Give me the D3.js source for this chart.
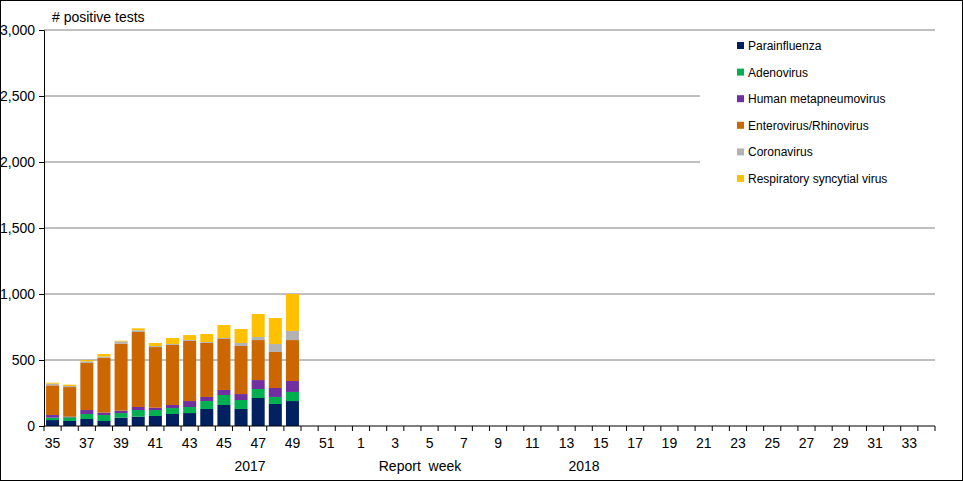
<!DOCTYPE html>
<html><head><meta charset="utf-8">
<script src="https://cdn.jsdelivr.net/npm/d3@7"></script>
<style>body{margin:0;background:#fff;font-family:Arial,"Liberation Sans",sans-serif;}</style>
</head><body><div id="chart"></div>
<script>
// weeks 35..52 of 2017, then 1..34 of 2018
var weeks = d3.range(35, 53).concat(d3.range(1, 35));
var series = ["Parainfluenza", "Adenovirus", "Human metapneumovirus", "Enterovirus/Rhinovirus", "Coronavirus", "Respiratory syncytial virus"];
var colors = ["#002060", "#00b050", "#7030a0", "#cc6600", "#b2b2b2", "#ffc000"];

// values per week (35..49), one array per virus
var parainfluenza = [45, 38, 53, 38, 63, 71, 76, 91, 98, 129, 159, 129, 212, 167, 189];
var adenovirus    = [18, 28, 38, 45, 35, 50, 45, 45, 46, 60, 76, 68, 68, 53, 69];
var hmpv          = [20, 5, 30, 18, 18, 23, 18, 23, 45, 31, 38, 45, 68, 68, 83];
var entero        = [225, 224, 356, 417, 508, 568, 459, 455, 455, 409, 386, 364, 303, 273, 310];
var corona        = [13, 8, 13, 8, 17, 13, 8, 7, 7, 7, 8, 23, 23, 60, 69];
var rsv           = [7, 10, 10, 19, 5, 15, 23, 46, 38, 61, 98, 106, 174, 197, 280];
var yTicks = [0, 500, 1000, 1500, 2000, 2500, 3000];

var W = 963, H = 481;
var m = {left: 44, right: 28, top: 30, bottom: 55};

var svg = d3.select("#chart").append("svg").attr("width", W).attr("height", H);
svg.append("rect").attr("x", 0.5).attr("y", 0.5).attr("width", W - 1).attr("height", H - 1)
  .attr("fill", "#fff").attr("stroke", "#000");

var x = d3.scaleBand().domain(weeks).range([m.left, W - m.right]).paddingInner(0.24).paddingOuter(0.12);
var y = d3.scaleLinear().domain([0, 3000]).range([H - m.bottom, m.top]);

// gridlines
svg.selectAll(".grid").data(yTicks.slice(1)).enter().append("line")
  .attr("x1", m.left).attr("x2", W - m.right)
  .attr("y1", d => y(d)).attr("y2", d => y(d))
  .attr("stroke", "#808080");

// stacked bars
var rows = weeks.slice(0, parainfluenza.length).map(function(w, i) {
  return {week: w, s0: parainfluenza[i], s1: adenovirus[i], s2: hmpv[i], s3: entero[i], s4: corona[i], s5: rsv[i]};
});
var stack = d3.stack().keys(["s0", "s1", "s2", "s3", "s4", "s5"])(rows);
svg.selectAll(".layer").data(stack).enter().append("g")
  .attr("fill", (d, i) => colors[i])
  .selectAll("rect").data(d => d).enter().append("rect")
  .attr("x", d => x(d.data.week))
  .attr("width", x.bandwidth())
  .attr("y", d => y(d[1]))
  .attr("height", d => y(d[0]) - y(d[1]));

// legend box (covers upper gridlines)
var lg = svg.append("g");
lg.append("rect").attr("x", 700).attr("y", 31).attr("width", 235).attr("height", 163).attr("fill", "#fff");
series.forEach(function(s, i) {
  var yy = 46 + i * 26.6;
  lg.append("rect").attr("x", 737).attr("y", yy - 4).attr("width", 7).attr("height", 7).attr("fill", colors[i]);
  lg.append("text").attr("x", 748).attr("y", yy + 4).attr("font-size", 12).text(s);
});

// y axis
var ya = svg.append("g").attr("transform", "translate(" + m.left + ",0)")
  .call(d3.axisLeft(y).tickValues(yTicks).tickSize(5).tickPadding(4));
ya.select(".domain").attr("stroke", "#000");
ya.selectAll("text").attr("font-size", 14).attr("font-family", "Arial,'Liberation Sans',sans-serif");

// x axis
var base = y(0);
svg.append("line").attr("x1", m.left).attr("x2", W - m.right).attr("y1", base).attr("y2", base).attr("stroke", "#000");
var step = x.step();
svg.selectAll(".xt").data(weeks).enter().append("line")
  .attr("x1", d => x(d) - step * x.paddingInner() / 2).attr("x2", d => x(d) - step * x.paddingInner() / 2)
  .attr("y1", base).attr("y2", base + 5).attr("stroke", "#000");
svg.append("line").attr("x1", W - m.right).attr("x2", W - m.right).attr("y1", base).attr("y2", base + 5).attr("stroke", "#000");
svg.selectAll(".xl").data(weeks.filter((d, i) => i % 2 === 0)).enter().append("text")
  .attr("x", d => x(d) + x.bandwidth() / 2).attr("y", base + 22)
  .attr("text-anchor", "middle").attr("font-size", 14).text(d => d);

svg.append("text").attr("x", 250).attr("y", 471).attr("text-anchor", "middle").attr("font-size", 14).text("2017");
svg.append("text").attr("x", 420).attr("y", 471).attr("text-anchor", "middle").attr("font-size", 14).attr("xml:space", "preserve").text("Report  week");
svg.append("text").attr("x", 584).attr("y", 471).attr("text-anchor", "middle").attr("font-size", 14).text("2018");
svg.append("text").attr("x", 52).attr("y", 22).attr("font-size", 14).text("# positive tests");
</script></body></html>
